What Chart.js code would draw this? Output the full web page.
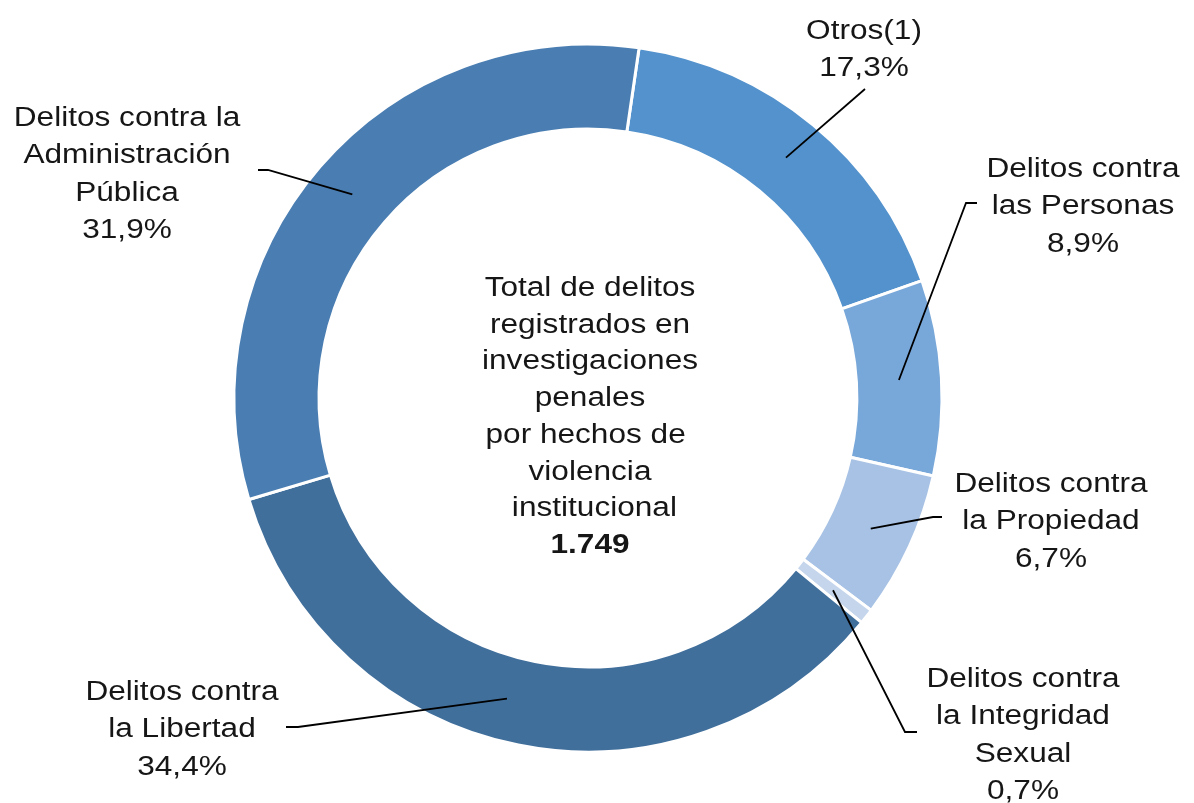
<!DOCTYPE html>
<html>
<head>
<meta charset="utf-8">
<script src="https://cdn.jsdelivr.net/npm/chart.js@4.4.1/dist/chart.umd.min.js"></script>
<style>
html,body{margin:0;padding:0;background:#ffffff;}
#wrap{width:1194px;height:803px;position:relative;}
</style>
</head>
<body>
<div id="wrap"><canvas id="c"></canvas></div>
<script>
// ---- data ----
const categories = ["Otros(1)", "Delitos contra las Personas", "Delitos contra la Propiedad", "Delitos contra la Integridad Sexual", "Delitos contra la Libertad", "Delitos contra la Administración Pública"];
const labelLines = [["Otros(1)"], ["Delitos contra", "las Personas"], ["Delitos contra", "la Propiedad"], ["Delitos contra", "la Integridad", "Sexual"], ["Delitos contra", "la Libertad"], ["Delitos contra la", "Administración", "Pública"]];
const shares = [17.3, 8.9, 6.7, 0.7, 34.4, 31.9];
const centerLines = ["Total de delitos", "registrados en", "investigaciones", "penales", "por hechos de ", "violencia", " institucional"];
const totalLabel = "1.749";

// ---- styles / layout ----
const colors = ["#5392CC", "#78A7D9", "#A7C2E4", "#C4D5EC", "#416F9C", "#4A7EB2"];
const FONT = '"Liberation Sans", Arial, sans-serif';
const FS = 27, SX = 1.17, LH = 37.3;
const labelLayout = [
  {x: 864,  y: 39,  t: 0.5,  path: [[865, 89]]},
  {x: 1083, y: 177, t: 0.5,  path: [[966, 203], [977, 203]]},
  {x: 1051, y: 492, t: 0.5,  path: [[933, 517], [942, 517]]},
  {x: 1023, y: 687, t: 0.5,  path: [[905, 732], [917, 732]]},
  {x: 182,  y: 700, t: 0.53, path: [[298, 727], [286, 727]]},
  {x: 127,  y: 126, t: 0.5,  path: [[268, 170], [258, 170]]}
];
const centerLayout = {x: 590, y: 296, lh: 36.7};

function pct(v){ return v.toFixed(1).replace('.', ',') + '%'; }

function drawText(ctx, txt, x, y, bold){
  ctx.save();
  ctx.translate(x, y);
  ctx.scale(SX, 1);
  ctx.font = (bold ? 'bold ' : '') + FS + 'px ' + FONT;
  ctx.fillStyle = '#161616';
  ctx.textAlign = 'center';
  ctx.textBaseline = 'alphabetic';
  ctx.fillText(txt, 0, 0);
  ctx.restore();
}

const labelPlugin = {
  id: 'labelPlugin',
  afterDraw(chart){
    const ctx = chart.ctx;
    const meta = chart.getDatasetMeta(0);
    // leader lines, anchored inside each slice
    meta.data.forEach((arc, i) => {
      const pr = arc.getProps(['x', 'y', 'startAngle', 'endAngle', 'innerRadius', 'outerRadius']);
      const a = pr.startAngle + (pr.endAngle - pr.startAngle) * labelLayout[i].t;
      const r = (pr.innerRadius + pr.outerRadius) / 2;
      const px = pr.x + Math.cos(a) * r, py = pr.y + Math.sin(a) * r;
      ctx.save();
      ctx.strokeStyle = '#000000';
      ctx.lineWidth = 1.8;
      ctx.beginPath();
      ctx.moveTo(px, py);
      labelLayout[i].path.forEach(q => ctx.lineTo(q[0], q[1]));
      ctx.stroke();
      ctx.restore();
    });
    // labels
    labelLines.forEach((lines, i) => {
      const L = labelLayout[i];
      const all = lines.concat([pct(shares[i])]);
      all.forEach((t, k) => drawText(ctx, t, L.x, L.y + k * LH, false));
    });
    // center text
    centerLines.forEach((t, k) => drawText(ctx, t, centerLayout.x, centerLayout.y + k * centerLayout.lh, false));
    drawText(ctx, totalLabel, centerLayout.x, centerLayout.y + centerLines.length * centerLayout.lh, true);
  }
};

new Chart(document.getElementById('c'), {
  type: 'doughnut',
  data: {
    labels: categories,
    datasets: [{
      data: shares,
      backgroundColor: colors,
      borderColor: '#ffffff',
      borderWidth: 3
    }]
  },
  options: {
    responsive: true,
    maintainAspectRatio: false,
    animation: false,
    rotation: 8.3,
    radius: 354,
    cutout: 267,
    layout: {padding: {left: 235, right: 253, top: 45, bottom: 52}},
    plugins: {legend: {display: false}, tooltip: {enabled: false}}
  },
  plugins: [labelPlugin]
});
</script>
</body>
</html>
